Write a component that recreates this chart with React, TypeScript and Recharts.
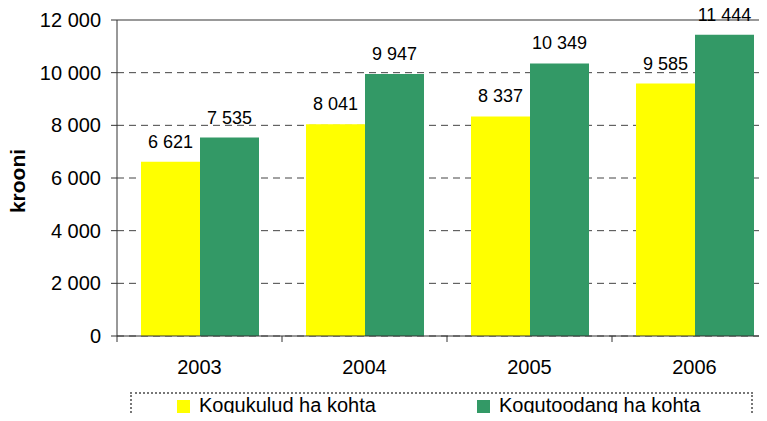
import React from 'react';
import { BarChart, Bar, XAxis, YAxis, CartesianGrid, ReferenceLine, LabelList, Legend } from 'recharts';

const years = ['2003', '2004', '2005', '2006'];
const kulud = [6621, 8041, 8337, 9585];
const toodang = [7535, 9947, 10349, 11444];
const yTicks = [0, 2000, 4000, 6000, 8000, 10000, 12000];
const seriesNames = ['Kogukulud ha kohta', 'Kogutoodang ha kohta'];
const seriesColors = ['#FFFF00', '#339966'];

const FONT = '"Liberation Sans", Arial, sans-serif';

const data = years.map((y, i) => ({ year: y, kulud: kulud[i], toodang: toodang[i] }));

// 12000 -> "12 000"
const fmt = (v: number) => String(v).replace(/\B(?=(\d{3})+(?!\d))/g, ' ');

const HALF_BAND = 82.5;

const CategoryTick = (props: any) => {
    const { x, y, payload, index } = props;
    const axisY = y - 8;
    return (
        <g>
            <line x1={x - HALF_BAND} x2={x - HALF_BAND} y1={axisY} y2={axisY + 6} stroke="#333" />
            {index === years.length - 1 && (
                <line x1={x + HALF_BAND} x2={x + HALF_BAND} y1={axisY} y2={axisY + 6} stroke="#333" />
            )}
            <text x={x} y={y + 23} textAnchor="middle" dominantBaseline="central" fontSize={20} fill="#000" fontFamily={FONT}>
                {payload.value}
            </text>
        </g>
    );
};

const YLabel = () => (
    <text
        x={17}
        y={181}
        transform="rotate(-90, 17, 181)"
        textAnchor="middle"
        dominantBaseline="central"
        fontSize={21}
        fontWeight="bold"
        fill="#000"
        fontFamily={FONT}
    >
        krooni
    </text>
);

const LegendBox = () => (
    <div
        style={{
            width: 623,
            height: 40,
            boxSizing: 'border-box',
            border: '2px dotted #777',
            display: 'flex',
            alignItems: 'flex-start',
            paddingTop: 0,
            paddingLeft: 45,
            fontFamily: FONT,
            fontSize: 20,
            color: '#000',
        }}
    >
        {seriesNames.map((n, i) => (
            <div key={n} style={{ display: 'flex', alignItems: 'center', width: i === 0 ? 300 : 'auto', lineHeight: '22px' }}>
                <span style={{ width: 13, height: 13, background: seriesColors[i], marginRight: 9, display: 'inline-block', marginTop: 2 }} />
                <span>{n}</span>
            </div>
        ))}
    </div>
);

export default function App() {
    return (
        <div style={{ margin: -8, width: 767, height: 421, overflow: 'hidden', position: 'relative', background: '#fff' }}>
            <BarChart
                width={790}
                height={421}
                data={data}
                margin={{ top: 20, right: 13, bottom: 45, left: 0 }}
                barCategoryGap={24}
                barGap={0}
            >
                <CartesianGrid vertical={false} stroke="#444" strokeDasharray="7 5" />
                <ReferenceLine y={12000} stroke="#999" strokeWidth={2} />
                <XAxis
                    dataKey="year"
                    height={40}
                    tickSize={6}
                    tickMargin={2}
                    tickLine={{ stroke: 'none' }}
                    axisLine={{ stroke: '#333' }}
                    tick={<CategoryTick />}
                    interval={0}
                />
                <YAxis
                    width={117}
                    domain={[0, 12000]}
                    ticks={yTicks}
                    tickFormatter={fmt}
                    tickSize={6}
                    tickMargin={10}
                    axisLine={{ stroke: '#333' }}
                    tickLine={{ stroke: '#333' }}
                    tick={{ fontSize: 20, fill: '#000', fontFamily: FONT }}
                    label={<YLabel />}
                />
                <Legend
                    layout="horizontal"
                    verticalAlign="middle"
                    align="center"
                    content={<LegendBox />}
                    wrapperStyle={{ left: 130, top: 392, width: 623, height: 40 }}
                />
                <Bar dataKey="kulud" name={seriesNames[0]} fill={seriesColors[0]} isAnimationActive={false}>
                    <LabelList dataKey="kulud" position="top" offset={14} formatter={fmt} style={{ fontSize: 18, fill: '#000', fontFamily: FONT }} />
                </Bar>
                <Bar dataKey="toodang" name={seriesNames[1]} fill={seriesColors[1]} isAnimationActive={false}>
                    <LabelList dataKey="toodang" position="top" offset={14} formatter={fmt} style={{ fontSize: 18, fill: '#000', fontFamily: FONT }} />
                </Bar>
            </BarChart>
        </div>
    );
}
